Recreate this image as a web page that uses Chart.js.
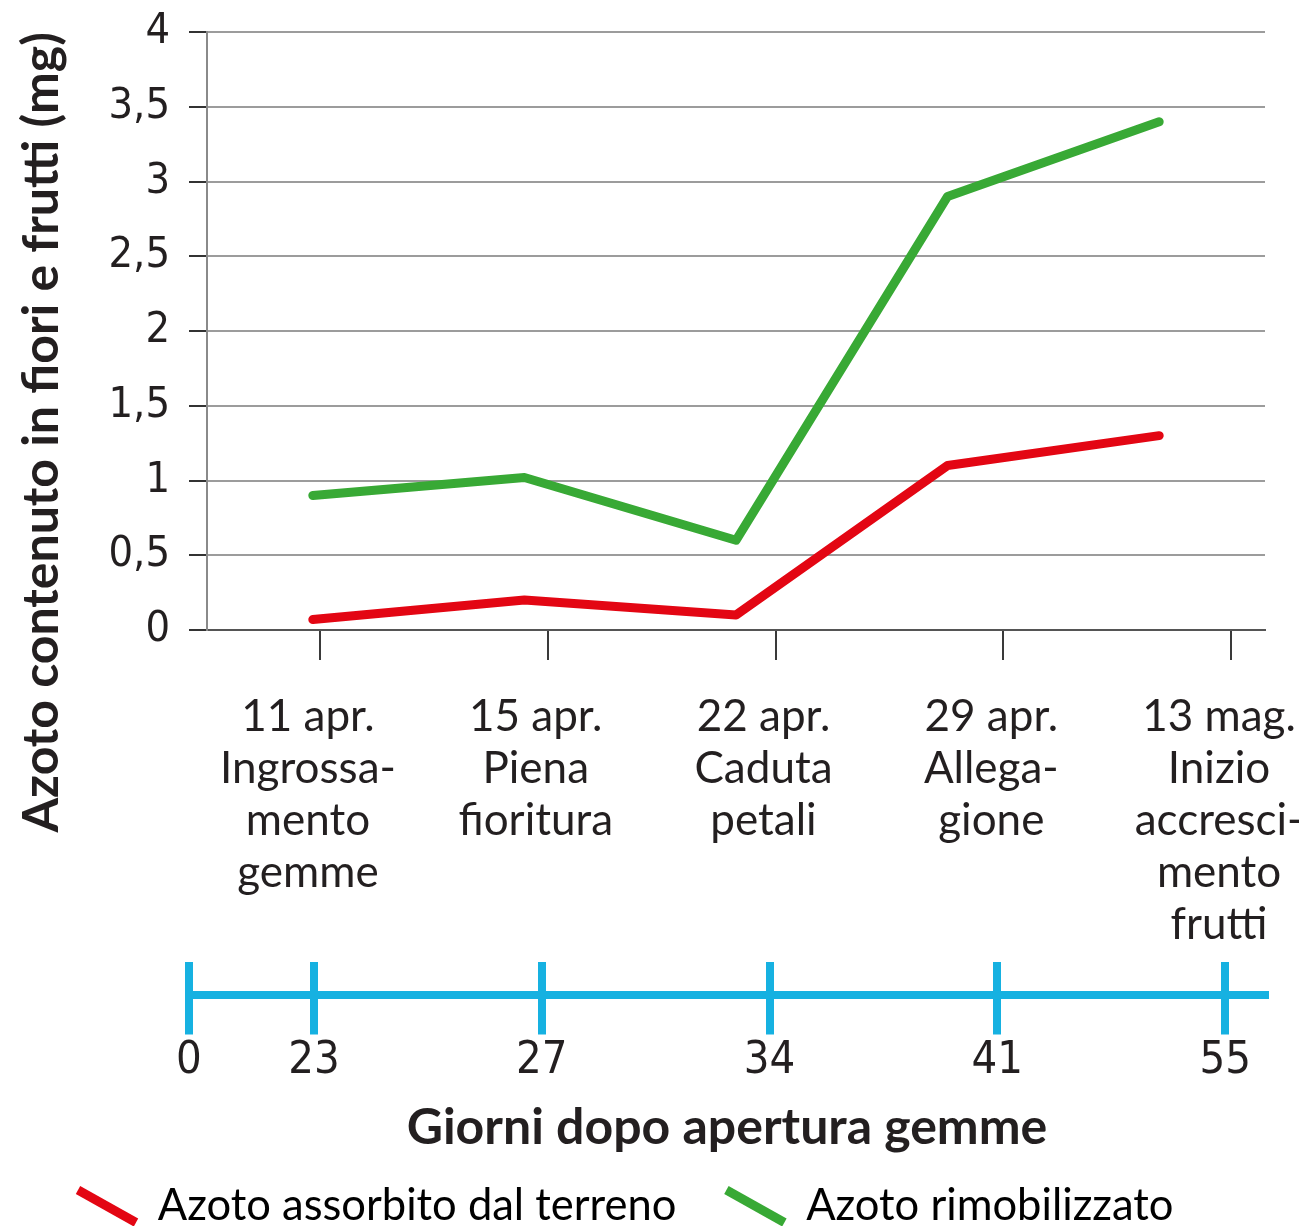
<!DOCTYPE html>
<html>
<head>
<meta charset="utf-8">
<script src="https://cdn.jsdelivr.net/npm/chart.js@4"></script>
<style>
  html, body { margin: 0; padding: 0; background: #fff; overflow: hidden; }
  #chartAzoto { position: absolute; left: 0; top: 0; }
  #chartGiorni { position: absolute; left: 0; top: 950px; }
</style>
</head>
<body>
<canvas id="chartAzoto" width="1299" height="950"></canvas>
<canvas id="chartGiorni" width="1299" height="288"></canvas>
<script>
// Dades del gràfic
const dateFasi = ['11 apr.', '15 apr.', '22 apr.', '29 apr.', '13 mag.'];
const nomiFasi = [
    ['Ingrossa-', 'mento', 'gemme'],
    ['Piena', 'fioritura'],
    ['Caduta', 'petali'],
    ['Allega-', 'gione'],
    ['Inizio', 'accresci-', 'mento', 'frutti']
];
const azotoTerreno = [0.07, 0.2, 0.1, 1.1, 1.3];
const azotoRimobilizzato = [0.9, 1.02, 0.6, 2.9, 3.4];
const giorni = [0, 23, 27, 34, 41, 55];
const etichetteSerie = ['Azoto assorbito dal terreno', 'Azoto rimobilizzato'];

const ROSSO = '#e30613';
const VERDE = '#38a935';
const BLU = '#16b1e1';
const TESTO = '#231f20';
const NARROW = "'Liberation Sans Narrow', 'DejaVu Sans Condensed', sans-serif";
const LATO = "Lato, 'Open Sans', sans-serif";

// Gràfic principal
new Chart(document.getElementById('chartAzoto'), {
    type: 'line',
    data: {
        labels: dateFasi,
        datasets: [
            { label: etichetteSerie[0], data: azotoTerreno, borderColor: ROSSO },
            { label: etichetteSerie[1], data: azotoRimobilizzato, borderColor: VERDE }
        ]
    },
    options: {
        responsive: false,
        animation: false,
        devicePixelRatio: 1,
        layout: { padding: { top: 32, left: 0, right: 34, bottom: 0 } },
        elements: {
            line: { borderWidth: 9, borderCapStyle: 'round', borderJoinStyle: 'round', tension: 0 },
            point: { radius: 0 }
        },
        plugins: { legend: { display: false }, tooltip: { enabled: false } },
        scales: {
            x: { type: 'category', display: false, offset: true },
            fasi: {
                type: 'linear',
                position: 'bottom',
                min: -0.496,
                max: 4.149,
                afterBuildTicks: (scale) => {
                    scale.ticks = dateFasi.map((_, i) => ({ value: i }));
                },
                afterFit: (scale) => {
                    scale.height = 320;
                    scale.paddingLeft = 0;
                    scale.paddingRight = 0;
                },
                grid: { drawOnChartArea: false, tickLength: 30, color: '#3a3a3a', lineWidth: 2 },
                border: { color: '#555', width: 2 },
                ticks: {
                    autoSkip: false,
                    maxRotation: 0,
                    padding: 31,
                    labelOffset: -12,
                    color: TESTO,
                    font: { family: LATO, size: 44, lineHeight: 1.18 },
                    callback: (v, i) => [dateFasi[i]].concat(nomiFasi[i])
                }
            },
            y: {
                min: 0,
                max: 4,
                afterFit: (scale) => {
                    scale.width = 207;
                    scale.paddingTop = 0;
                    scale.paddingBottom = 0;
                },
                grid: { color: '#9c9c9c', lineWidth: 2, tickLength: 18, tickColor: '#333', tickWidth: 2 },
                border: { color: '#8a8a8a', width: 2 },
                ticks: {
                    stepSize: 0.5,
                    padding: 19,
                    color: TESTO,
                    font: { family: NARROW, size: 43 },
                    callback: (v) => String(v).replace('.', ',')
                },
                title: {
                    display: true,
                    text: 'Azoto contenuto in fiori e frutti (mg)',
                    align: 'end',
                    color: TESTO,
                    padding: { top: 12, bottom: 0 },
                    font: { family: LATO, size: 50, weight: 'bold' }
                }
            }
        }
    }
});

// Asse dei giorni e legenda
new Chart(document.getElementById('chartGiorni'), {
    type: 'line',
    data: { datasets: [] },
    options: {
        responsive: false,
        animation: false,
        devicePixelRatio: 1,
        layout: { padding: { top: 12, left: 28, right: 0, bottom: 0 } },
        plugins: {
            tooltip: { enabled: false },
            legend: {
                position: 'bottom',
                align: 'start',
                labels: {
                    usePointStyle: true,
                    pointStyleWidth: 58,
                    boxHeight: 30,
                    padding: 50,
                    color: TESTO,
                    font: { family: LATO, size: 43.5 },
                    generateLabels: () => etichetteSerie.map((t, i) => ({
                        text: t,
                        strokeStyle: [ROSSO, VERDE][i],
                        fillStyle: [ROSSO, VERDE][i],
                        lineWidth: 9,
                        pointStyle: 'line',
                        rotation: 50,
                        hidden: false,
                        datasetIndex: i
                    }))
                }
            }
        },
        scales: {
            x: {
                type: 'linear',
                min: -0.549,
                max: 4.175,
                afterBuildTicks: (scale) => {
                    scale.ticks = giorni.map((g, i) => ({ value: i === 0 ? scale.min : i - 1 }));
                },
                afterFit: (scale) => {
                    scale.height = 140;
                    scale.paddingLeft = 0;
                    scale.paddingRight = 0;
                },
                grid: { color: BLU, lineWidth: 8, tickLength: 40, drawOnChartArea: true },
                border: { color: BLU, width: 8 },
                ticks: {
                    autoSkip: false,
                    maxRotation: 0,
                    padding: 4,
                    color: TESTO,
                    font: { family: NARROW, size: 45, lineHeight: 1 },
                    callback: (v, i) => String(giorni[i])
                },
                title: {
                    display: true,
                    text: 'Giorni dopo apertura gemme',
                    color: TESTO,
                    padding: 0,
                    font: { family: LATO, size: 50, weight: 'bold', lineHeight: 0.25 }
                }
            },
            y: {
                position: 'left',
                afterFit: (scale) => { scale.width = 161; },
                ticks: { display: false },
                grid: { display: false },
                border: { display: false }
            },
            y2: {
                position: 'right',
                afterFit: (scale) => { scale.width = 34; },
                ticks: { display: false },
                grid: { display: false },
                border: { display: false }
            }
        }
    }
});
</script>
</body>
</html>
